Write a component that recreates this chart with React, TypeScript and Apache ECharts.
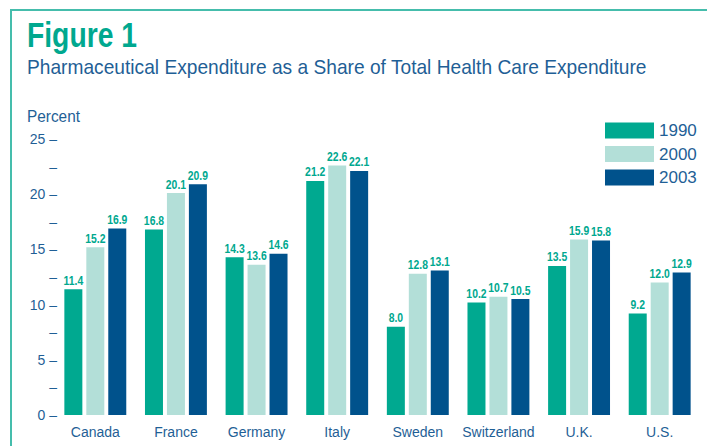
import React, { useEffect, useRef } from "react";
import * as echarts from "echarts";

const categories = ["Canada", "France", "Germany", "Italy", "Sweden", "Switzerland", "U.K.", "U.S."];
const seriesNames = ["1990", "2000", "2003"];
const values1990 = [11.4, 16.8, 14.3, 21.2, 8.0, 10.2, 13.5, 9.2];
const values2000 = [15.2, 20.1, 13.6, 22.6, 12.8, 10.7, 15.9, 12.0];
const values2003 = [16.9, 20.9, 14.6, 22.1, 13.1, 10.5, 15.8, 12.9];
const seriesColors = ["#00a990", "#b3dfd8", "#00528c"];
const titleText = "Figure 1";
const subtitleText = "Pharmaceutical Expenditure as a Share of Total Health Care Expenditure";
const yAxisTitle = "Percent";

const FONT = "'Liberation Sans', Arial, sans-serif";
const TEXT_BLUE = "#1f5f96";
const TEAL = "#00a88f";
const BAR_WIDTH = 18;
const BAR_GAP = 0.22;

function fitScale(text: string, font: string, target: number, fallback: number) {
  try {
    const ctx = document.createElement("canvas").getContext("2d");
    if (!ctx) return fallback;
    ctx.font = font;
    const w = ctx.measureText(text).width;
    return w > 0 ? target / w : fallback;
  } catch (e) {
    return fallback;
  }
}

export default function App() {
  const ref = useRef<HTMLDivElement>(null);
  useEffect(() => {
    if (!ref.current) return;
    const chart = echarts.init(ref.current, null, { renderer: "svg" });
    const all = [values1990, values2000, values2003];
    const titleFont = `bold 35px ${FONT}`;
    const subFont = `21px ${FONT}`;
    const pctFont = `17px ${FONT}`;
    const titleScale = fitScale(titleText, titleFont, 110, 0.8);
    const subScale = fitScale(subtitleText, subFont, 620, 0.84);
    const pctScale = fitScale(yAxisTitle, pctFont, 53, 0.85);
    const labelFont = `bold 13px ${FONT}`;

    const barSeries = seriesNames.map((name, i) => ({
      name,
      type: "bar",
      data: all[i],
      barWidth: BAR_WIDTH,
      barGap: `${BAR_GAP * 100}%`,
      itemStyle: { color: seriesColors[i] },
    }));

    const labelSeries = seriesNames.map((name, i) => ({
      name: `${name} labels`,
      type: "custom",
      data: all[i].map((v, k) => [k, v]),
      encode: { x: 0, y: 1 },
      z: 5,
      clip: false,
      silent: true,
      renderItem: (params: any, api: any) => {
        const idx = api.value(0);
        const val = api.value(1);
        const pt = api.coord([idx, val]);
        const offset = (i - 1) * BAR_WIDTH * (1 + BAR_GAP);
        return {
          type: "text",
          x: pt[0] + offset,
          y: pt[1] - 3,
          scaleX: 0.8,
          style: {
            text: Number(val).toFixed(1),
            fill: TEAL,
            font: labelFont,
            align: "center",
            verticalAlign: "bottom",
          },
        };
      },
    }));

    chart.setOption({
      animation: false,
      backgroundColor: "#ffffff",
      textStyle: { fontFamily: FONT },
      graphic: [
        {
          type: "polyline",
          shape: { points: [[11, 446], [11, 10], [707, 10]] },
          style: { stroke: "#45bdac", lineWidth: 2, fill: "none" },
        },
        {
          type: "text",
          x: 27,
          y: 17,
          scaleX: titleScale,
          style: { text: titleText, fill: TEAL, font: titleFont, align: "left", verticalAlign: "top" },
        },
        {
          type: "text",
          x: 27,
          y: 56,
          scaleX: subScale,
          style: { text: subtitleText, fill: TEXT_BLUE, font: subFont, align: "left", verticalAlign: "top" },
        },
        {
          type: "text",
          x: 27,
          y: 107,
          scaleX: pctScale,
          style: { text: yAxisTitle, fill: TEXT_BLUE, font: pctFont, align: "left", verticalAlign: "top" },
        },
      ],
      legend: {
        orient: "vertical",
        left: 600,
        top: 117,
        itemWidth: 49,
        itemHeight: 16,
        itemGap: 6.5,
        icon: "rect",
        data: seriesNames,
        textStyle: { color: TEXT_BLUE, fontSize: 17, fontFamily: FONT },
      },
      grid: { left: 55, right: 7, top: 139, bottom: 31, containLabel: false },
      xAxis: {
        type: "category",
        data: categories,
        axisLine: { show: false },
        axisTick: { show: false },
        axisLabel: { color: TEXT_BLUE, fontSize: 14, margin: 10, fontFamily: FONT, interval: 0 },
      },
      yAxis: {
        type: "value",
        min: 0,
        max: 25,
        interval: 2.5,
        axisLine: { show: false },
        axisTick: { show: false },
        splitLine: { show: false },
        axisLabel: {
          color: TEXT_BLUE,
          fontSize: 14,
          margin: -2,
          fontFamily: FONT,
          formatter: (v: number) => (v % 5 === 0 ? `${v} –` : "–"),
        },
      },
      series: [...barSeries, ...labelSeries],
    });
    return () => chart.dispose();
  }, []);
  return (
    <div
      ref={ref}
      style={{ position: "fixed", left: 0, top: 0, width: 707, height: 446 }}
    />
  );
}
